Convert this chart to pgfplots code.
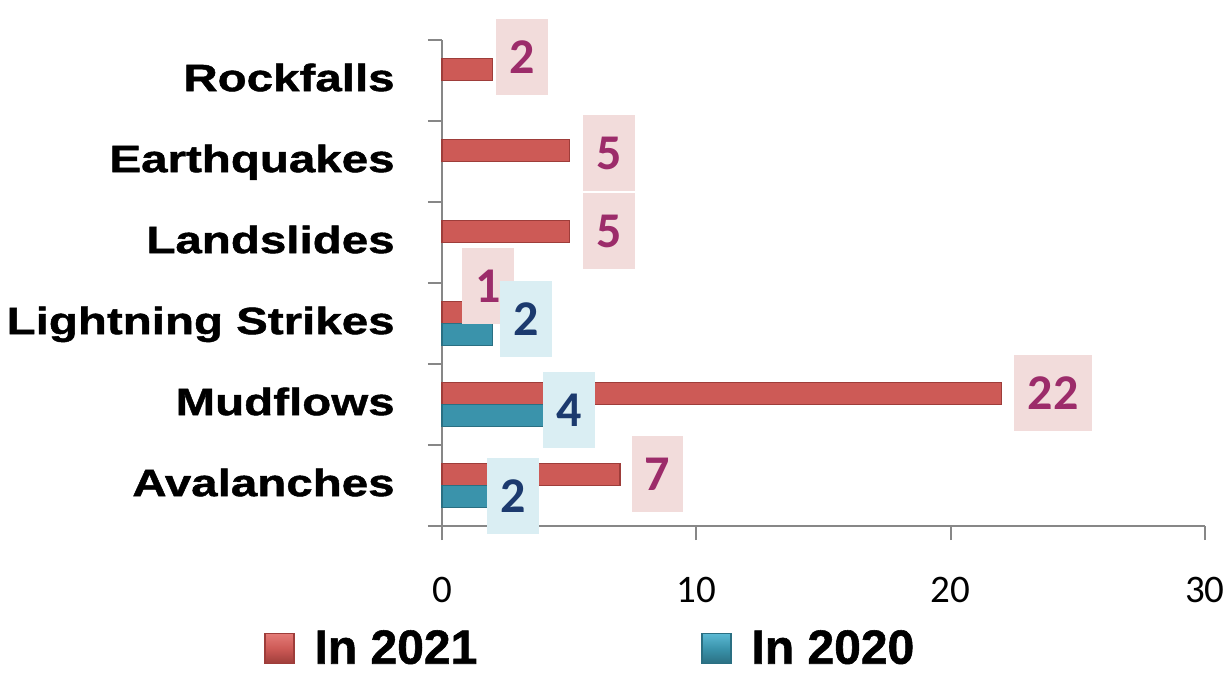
\documentclass[border=0pt]{standalone}
\usepackage{pgfplots}
\pgfplotsset{compat=1.18}
\usepackage{fontspec}
\setmainfont{Liberation Sans}
\newfontfamily\catfont[FakeStretch=1.25, FakeBold=1.2]{Liberation Sans}
\newfontfamily\legfont[FakeBold=1.2]{Liberation Sans}
\newfontfamily\calib{Carlito}
\definecolor{redA}{HTML}{E47B77}
\definecolor{redB}{HTML}{CD5A56}
\definecolor{redD}{HTML}{9E3D3A}
\definecolor{tealA}{HTML}{5BB9D3}
\definecolor{tealB}{HTML}{3A93AB}
\definecolor{tealD}{HTML}{2A6F82}
\definecolor{labred}{HTML}{9C2C6A}
\definecolor{labnavy}{HTML}{1C3A6E}
\definecolor{boxpink}{HTML}{F2DCDB}
\definecolor{boxblue}{HTML}{DAEEF3}
\definecolor{axisgray}{HTML}{878787}
\pgfplotstableread{
v y dx dy
7 0 18.75 0
22 1 25.75 0
1 2 10.5 13
5 3 20 0
5 4 20 -1.25
2 5 14.75 6.25
}\datatwentyone
\pgfplotstableread{
v y dx dy
2 0 10.25 0
4 1 12.75 2.75
2 2 16.75 7.5
}\datatwenty
\begin{document}
\begin{tikzpicture}
\useasboundingbox (-221pt,-74.5pt) rectangle (393pt,263pt);
\begin{axis}[
  at={(0,0)}, anchor=south west,
  scale only axis, width=381.5pt, height=243pt,
  xbar, bar width=11pt,
  xmin=0, xmax=30, ymin=-0.5, ymax=5.5,
  axis lines*=left,
  axis line style={draw=axisgray, line width=1pt},
  tick style={draw=axisgray, line width=1pt},
  tick align=outside,
  major tick length=7pt,
  /pgf/number format/assume math mode=true,
  xtick={0,10,20,30},
  xticklabel style={font=\calib\fontsize{19.5}{20}\selectfont, inner sep=0pt, anchor=base, yshift=-31pt},
  ytick={-0.5,0.5,1.5,2.5,3.5,4.5,5.5},
  yticklabels={},
  extra y ticks={0,1,2,3,4,5},
  extra y tick labels={Avalanches,Mudflows,Lightning Strikes,Landslides,Earthquakes,Rockfalls},
  extra y tick style={major tick length=0pt,
    yticklabel style={font=\catfont\bfseries\fontsize{19}{19}\selectfont, inner sep=0pt, anchor=base east, xshift=-23.5pt, yshift=-5.3pt}},
  point meta=x,
  clip=false,
  legend columns=2,
  legend cell align=left,
  legend style={at={(-0.2333,-0.252)}, anchor=west, draw=none, fill=none, inner sep=0pt,
    font=\legfont\bfseries\fontsize{24}{24}\selectfont,
    nodes={inner sep=0pt},
    /tikz/every odd column/.append style={column sep=10pt},
    /tikz/every even column/.append style={column sep=112pt}},
]
\addplot[bar shift=5.5pt, draw=redD, line width=0.6pt, fill=redB,
  legend image code/.code={\draw[draw=redD, top color=redA, bottom color=redD, middle color=redB] (0pt,-7.5pt) rectangle (14.5pt,7.5pt);},
  nodes near coords,
  visualization depends on={\thisrow{dx} \as \dx},
  visualization depends on={\thisrow{dy} \as \dy},
  every node near coord/.append style={anchor=center, xshift=\dx pt, yshift=\dy pt,
    font=\calib\bfseries\fontsize{25}{25}\selectfont, text=labred, fill=boxpink,
    inner xsep=6.65pt, inner ysep=0pt, minimum height=38pt}]
  table[x=v, y=y] {\datatwentyone};
\addlegendentry{In 2021}
\addplot[bar shift=-5.5pt, draw=tealD, line width=0.6pt, fill=tealB,
  legend image code/.code={\draw[draw=tealD, top color=tealA, bottom color=tealD, middle color=tealB] (0pt,-7.5pt) rectangle (14.5pt,7.5pt);},
  nodes near coords,
  visualization depends on={\thisrow{dx} \as \dx},
  visualization depends on={\thisrow{dy} \as \dy},
  every node near coord/.append style={anchor=center, xshift=\dx pt, yshift=\dy pt,
    font=\calib\bfseries\fontsize{25}{25}\selectfont, text=labnavy, fill=boxblue,
    inner xsep=6.65pt, inner ysep=0pt, minimum height=38pt}]
  table[x=v, y=y] {\datatwenty};
\addlegendentry{In 2020}
\end{axis}
\end{tikzpicture}
\end{document}
